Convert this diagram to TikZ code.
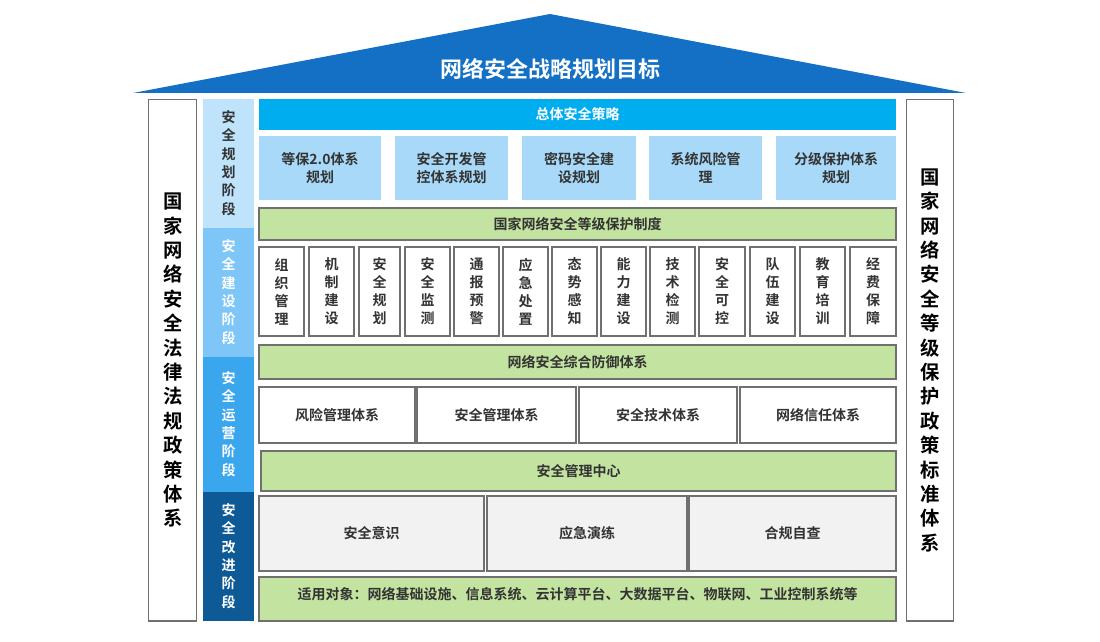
\documentclass[tikz,border=0pt]{standalone}
\usepackage{fontspec}
\setmainfont{Noto Sans CJK SC}[BoldFont={Noto Sans CJK SC Bold}]
\definecolor{roof}{HTML}{1470C4}
\definecolor{bar}{HTML}{00AEEF}
\definecolor{lb}{HTML}{A8D9F8}
\definecolor{gr}{HTML}{C3E3A0}
\definecolor{s1}{HTML}{BEE3FB}
\definecolor{s2}{HTML}{7DC6F7}
\definecolor{s3}{HTML}{3AA6EE}
\definecolor{s4}{HTML}{0D5A96}
\definecolor{tx}{HTML}{333333}
\definecolor{bd}{HTML}{707070}
\begin{document}
\begin{tikzpicture}[x=0.75pt,y=-0.75pt,
 box/.style={draw=bd,line width=1pt,text=tx,font=\bfseries\fontsize{10.5}{12.5}\selectfont,align=center},
 plain/.style={text=tx,font=\bfseries\fontsize{10.5}{12.5}\selectfont,align=center},
 vt/.style={align=center,font=\bfseries\fontsize{10.5}{13.8}\selectfont}]
\useasboundingbox (0,0) rectangle (1100,642);
\fill[roof] (133,93) -- (550,14) -- (966,93) -- cycle;
\node[white,font=\bfseries\fontsize{16.5}{19}\selectfont] (title) at (550,69) {网络安全战略规划目标};
% side boxes
\node[draw=bd,line width=1pt,minimum width=36pt,minimum height=391pt,anchor=north west,inner sep=0] (lft) at (148,99) {};
\node[font=\bfseries\fontsize{14.5}{18.3}\selectfont,align=center,text=black] (lt) at (lft.center) {国\\家\\网\\络\\安\\全\\法\\律\\法\\规\\政\\策\\体\\系};
\node[draw=bd,line width=1pt,minimum width=35pt,minimum height=391pt,anchor=north west,inner sep=0] (rgt) at (906,99) {};
\node[font=\bfseries\fontsize{14.5}{18.3}\selectfont,align=center,text=black] (rt) at (rgt.center) {国\\家\\网\\络\\安\\全\\等\\级\\保\\护\\政\\策\\标\\准\\体\\系};
% stages
\fill[s1] (203,99) rectangle (254,228);
\fill[s2] (203,228) rectangle (254,357);
\fill[s3] (203,357) rectangle (254,492);
\fill[s4] (203,492) rectangle (254,621);
\node[vt,text=tx] (st1) at (228.5,163) {安\\全\\规\\划\\阶\\段};
\node[vt,white] (st2) at (228.5,292) {安\\全\\建\\设\\阶\\段};
\node[vt,white] (st3) at (228.5,424) {安\\全\\运\\营\\阶\\段};
\node[vt,white] (st4) at (228.5,556) {安\\全\\改\\进\\阶\\段};
% top bar
\fill[bar] (259,99) rectangle (896,130);
\node[white,font=\bfseries\fontsize{10.5}{12}\selectfont] (zt) at (577.5,114.5) {总体安全策略};
\foreach \a/\b/\t [count=\i] in {259/381/{等保2.0体系\\规划},395/508/{安全开发管\\控体系规划},522/636/{密码安全建\\设规划},649/762/{系统风险管\\理},776/896/{分级保护体系\\规划}}{
 \fill[lb] (\a,136) rectangle (\b,200);
 \node[plain,font=\bfseries\fontsize{10.5}{13.5}\selectfont] (p\i) at ({(\a+\b)/2},168) {\t};
}
\draw[box,fill=gr] (259,208) rectangle (896,240);
\node[plain] (g1) at (577.5,224) {国家网络安全等级保护制度};
\foreach \a/\b/\t [count=\i] in {259/304/{组\\织\\管\\理},309/354/{机\\制\\建\\设},359/400/{安\\全\\规\\划},405/450/{安\\全\\监\\测},454/499/{通\\报\\预\\警},503/548/{应\\急\\处\\置},552/597/{态\\势\\感\\知},601/646/{能\\力\\建\\设},650/695/{技\\术\\检\\测},699/745/{安\\全\\可\\控},750/795/{队\\伍\\建\\设},800/845/{教\\育\\培\\训},850/896/{经\\费\\保\\障}}{
 \draw[box,fill=white] (\a,247) rectangle (\b,336);
 \node[plain,font=\bfseries\fontsize{10.5}{13.5}\selectfont] (c\i) at ({(\a+\b)/2},291.5) {\t};
}
\draw[box,fill=gr] (259,345) rectangle (896,379);
\node[plain] (g2) at (577.5,362) {网络安全综合防御体系};
\foreach \a/\b/\t [count=\i] in {259/415/风险管理体系,417/576/安全管理体系,579/737/安全技术体系,740/896/网络信任体系}{
 \draw[box,fill=white] (\a,387) rectangle (\b,443);
 \node[plain] (f\i) at ({(\a+\b)/2},415) {\t};
}
\draw[box,fill=gr] (261,451) rectangle (896,491);
\node[plain] (g3) at (578.5,471) {安全管理中心};
\foreach \a/\b/\t [count=\i] in {259/484/安全意识,487/687/应急演练,689/896/合规自查}{
 \draw[box,fill=gray!10] (\a,496) rectangle (\b,571);
 \node[plain] (e\i) at ({(\a+\b)/2},533.5) {\t};
}
\draw[box,fill=gr] (259,577) rectangle (896,621);
\node[plain] (g4) at (577.5,594) {适用对象：网络基础设施、信息系统、云计算平台、大数据平台、物联网、工业控制系统等};
\end{tikzpicture}
\end{document}
